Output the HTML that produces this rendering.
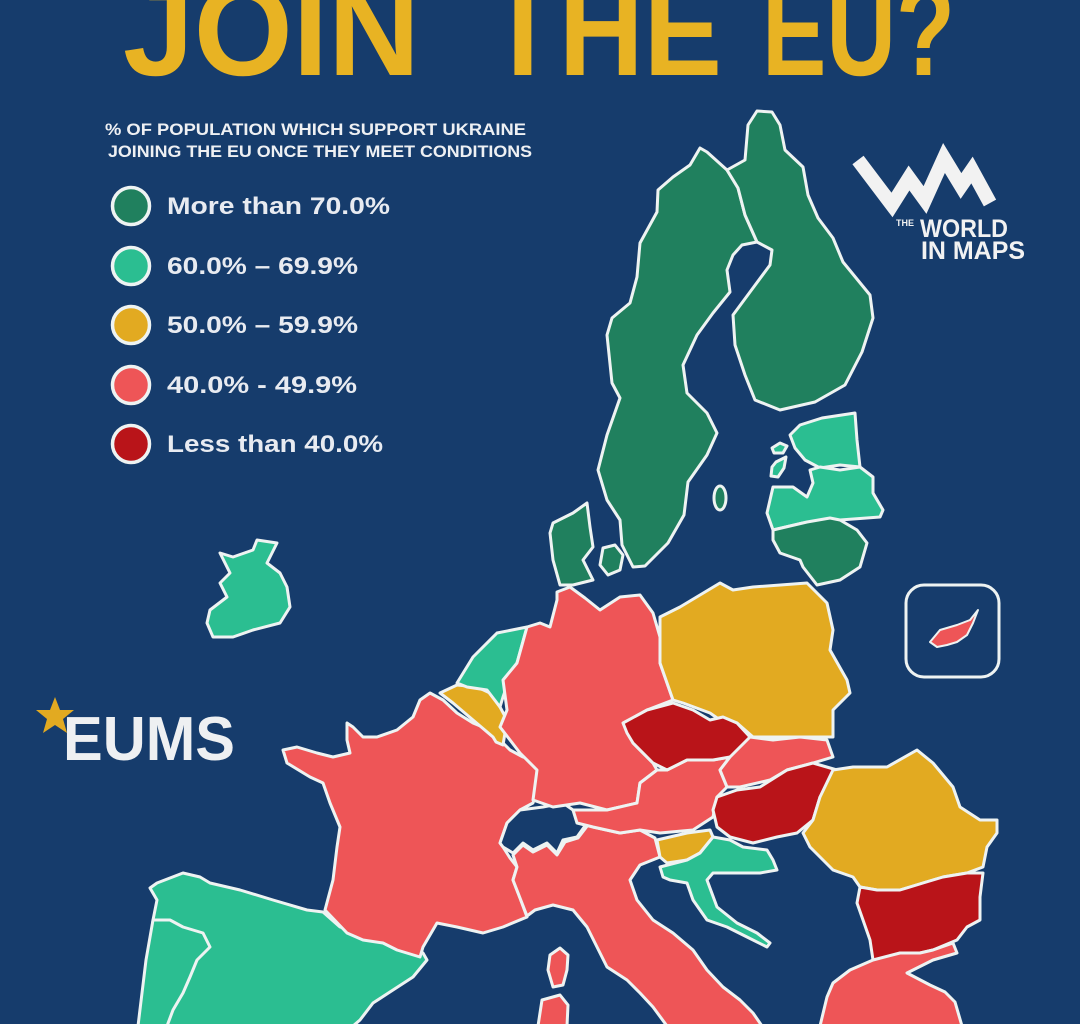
<!DOCTYPE html>
<html>
<head>
<meta charset="utf-8">
<style>
  html,body{margin:0;padding:0;background:#163c6c;}
  svg{display:block;}
  .t{font-family:"Liberation Sans",sans-serif;font-weight:bold;}
  .c path,.c polygon,.c ellipse{stroke:#eef3f2;stroke-width:3;stroke-linejoin:round;}
</style>
</head>
<body>
<svg width="1080" height="1024" viewBox="0 0 1080 1024" xmlns="http://www.w3.org/2000/svg">
  <rect width="1080" height="1024" fill="#163c6c"/>

  <!-- Title -->
  <g class="t" font-size="130" fill="#e8b323">
    <text x="123" y="75" textLength="297" lengthAdjust="spacingAndGlyphs">JOIN</text>
    <text x="487" y="75" textLength="235" lengthAdjust="spacingAndGlyphs">THE</text>
    <text x="762" y="75" textLength="193" lengthAdjust="spacingAndGlyphs">EU?</text>
  </g>

  <!-- Subtitle -->
  <text class="t" x="105" y="135" font-size="17" fill="#eef0f3" textLength="421" lengthAdjust="spacingAndGlyphs">% OF POPULATION WHICH SUPPORT UKRAINE</text>
  <text class="t" x="108" y="157" font-size="17" fill="#eef0f3" textLength="424" lengthAdjust="spacingAndGlyphs">JOINING THE EU ONCE THEY MEET CONDITIONS</text>

  <!-- Legend -->
  <g stroke="#eef3f2" stroke-width="3.5">
    <circle cx="131" cy="206" r="18.5" fill="#20805e"/>
    <circle cx="131" cy="266" r="18.5" fill="#2bbe91"/>
    <circle cx="131" cy="325" r="18.5" fill="#e2aa21"/>
    <circle cx="131" cy="385" r="18.5" fill="#ee5557"/>
    <circle cx="131" cy="444" r="18.5" fill="#b91419"/>
  </g>
  <g class="t" font-size="24" fill="#e8ebf1">
    <text x="167" y="214" textLength="223" lengthAdjust="spacingAndGlyphs">More than 70.0%</text>
    <text x="167" y="274" textLength="191" lengthAdjust="spacingAndGlyphs">60.0% – 69.9%</text>
    <text x="167" y="333" textLength="191" lengthAdjust="spacingAndGlyphs">50.0% – 59.9%</text>
    <text x="167" y="393" textLength="190" lengthAdjust="spacingAndGlyphs">40.0% - 49.9%</text>
    <text x="167" y="452" textLength="216" lengthAdjust="spacingAndGlyphs">Less than 40.0%</text>
  </g>

  <!-- Logo -->
  <polyline points="858,160 892,205 909,178 925,200 944,158 961,186 972,170 990,203" fill="none" stroke="#f2f2f2" stroke-width="14" stroke-linejoin="miter" stroke-miterlimit="3"/>
  <text class="t" x="896" y="226" font-size="9" fill="#f2f2f2">THE</text>
  <text class="t" x="920" y="237" font-size="25" fill="#f2f2f2" textLength="88" lengthAdjust="spacingAndGlyphs">WORLD</text>
  <text class="t" x="921" y="259" font-size="25" fill="#f2f2f2" textLength="104" lengthAdjust="spacingAndGlyphs">IN MAPS</text>

  <!-- EUMS -->
  <text class="t" x="63" y="760" font-size="62" fill="#eef0f2" textLength="172" lengthAdjust="spacingAndGlyphs">EUMS</text>
  <polygon points="55,697 60,710 74,710 63,719 67,733 55,725 43,733 47,719 36,710 50,710" fill="#e2aa21"/>

  <!-- Cyprus inset -->
  <rect x="906" y="585" width="93" height="92" rx="18" fill="none" stroke="#eef3f2" stroke-width="3"/>
  <g class="c">
    <polygon points="930,642 940,630 957,625 970,620 978,610 973,623 967,635 957,642 947,645 937,647" fill="#ee5557" style="stroke-width:2"/>
  </g>

  <g class="c">
    <!-- Spain -->
    <polygon fill="#2bbe91" points="157,883 183,873 200,877 210,883 240,890 273,900 307,910 323,912 340,927 373,937 393,947 423,953 427,960 413,977 393,990 373,1003 360,1020 353,1026 140,1026 148,960 153,920 157,900 150,888"/>
    <!-- Portugal -->
    <polygon fill="#2bbe91" points="153,920 170,920 183,927 203,933 210,947 197,960 190,977 183,993 173,1010 167,1026 138,1026 146,960"/>
    <!-- France -->
    <polygon fill="#ee5557" points="283,750 287,763 310,777 323,783 330,803 340,827 337,847 333,880 325,910 347,933 363,940 383,943 397,950 420,957 423,947 437,923 457,927 483,933 503,927 527,917 520,898 513,880 517,867 510,858 503,847 500,843 507,823 520,810 533,803 540,780 543,763 523,757 510,750 503,743 490,730 473,723 457,713 443,700 430,693 420,700 413,717 397,730 377,737 363,737 353,727 347,723 347,740 350,753 333,757 317,753 297,747"/>
    <!-- Italy -->
    <polygon fill="#ee5557" points="513,855 523,845 533,852 547,845 557,855 565,842 578,838 588,825 593,827 620,833 640,830 655,838 660,857 640,865 630,880 637,900 653,920 673,933 693,950 707,970 723,987 740,1000 753,1013 762,1026 667,1026 653,1007 640,993 627,980 607,967 597,947 587,927 573,910 553,905 535,910 527,916 520,898 513,880 517,867"/>
    <!-- Switzerland -->
    <polygon fill="#163c6c" points="500,843 507,823 520,810 543,807 563,803 573,810 587,823 577,837 563,840 557,853 547,843 533,850 523,843 513,853 503,847"/>
    <!-- Corsica / Sardinia -->
    <polygon fill="#ee5557" points="560,948 568,955 567,970 563,985 553,987 548,970 550,955"/>
    <polygon fill="#ee5557" points="542,1000 560,995 568,1005 567,1026 538,1026"/>
    <!-- Belgium + Lux -->
    <polygon fill="#e2aa21" points="440,693 457,685 477,687 490,693 500,707 507,720 505,733 503,745 496,742 493,737 473,720 453,703"/>
    <!-- Netherlands -->
    <polygon fill="#2bbe91" points="457,683 473,657 497,633 527,627 517,663 510,677 503,697 500,707 487,690 467,687"/>
    <!-- Germany -->
    <polygon fill="#ee5557" points="557,592 570,587 585,598 600,610 620,597 640,595 653,613 660,637 660,663 673,700 647,710 627,723 633,743 653,763 657,770 640,783 637,803 607,810 580,803 553,807 533,800 537,770 520,753 510,740 500,727 507,710 503,680 517,663 527,627 540,623 550,627 557,600"/>
    <!-- Austria -->
    <polygon fill="#ee5557" points="573,810 607,810 637,803 640,783 657,770 667,770 687,760 713,760 730,757 720,770 727,787 717,797 713,817 693,830 660,833 640,830 620,833 593,827 577,823"/>
    <!-- Poland -->
    <polygon fill="#e2aa21" points="660,617 680,607 720,583 733,590 753,587 807,583 827,603 833,630 830,650 847,680 850,693 833,710 833,737 820,737 787,737 753,737 737,723 720,720 710,713 683,703 673,700 660,663 660,637"/>
    <!-- Czech -->
    <polygon fill="#b91419" points="623,723 647,710 673,703 693,710 710,720 723,717 737,723 750,737 743,750 730,757 713,760 687,760 667,770 653,763 633,743 627,733"/>
    <!-- Slovakia -->
    <polygon fill="#ee5557" points="750,737 773,740 800,737 827,740 833,757 813,763 787,770 770,780 740,787 727,787 720,770 730,757"/>
    <!-- Hungary -->
    <polygon fill="#b91419" points="717,797 737,790 760,787 787,770 813,763 837,770 833,780 820,797 813,820 797,833 777,837 753,843 730,837 717,827 713,810"/>
    <!-- Slovenia -->
    <polygon fill="#e2aa21" points="657,840 687,833 710,830 713,837 700,853 687,860 667,863 660,857"/>
    <!-- Croatia -->
    <polygon fill="#2bbe91" points="660,867 687,860 700,853 713,837 730,840 743,847 767,850 773,860 777,870 760,873 737,873 713,873 707,880 717,907 737,923 757,933 770,943 767,947 747,937 727,927 707,920 693,900 687,883 670,880 663,877"/>
    <!-- Romania -->
    <polygon fill="#e2aa21" points="833,770 853,767 887,767 917,750 933,763 953,787 960,807 980,820 997,820 997,833 987,847 983,867 967,873 943,877 923,883 900,890 877,890 860,887 853,877 833,870 823,860 810,847 803,833 813,820 820,797"/>
    <!-- Bulgaria -->
    <polygon fill="#b91419" points="860,887 877,890 900,890 923,883 943,877 967,873 983,873 980,897 980,920 967,927 957,940 933,950 920,953 900,953 883,960 873,960 870,940 863,920 857,903"/>
    <!-- Greece -->
    <polygon fill="#ee5557" points="873,960 900,953 920,953 933,950 953,943 957,953 933,960 907,973 930,985 945,992 955,1002 962,1026 820,1026 827,997 833,983 850,970"/>
    <!-- Denmark -->
    <polygon fill="#20805e" points="553,523 573,513 587,503 590,527 593,547 583,560 593,580 573,585 560,585 553,560 550,533"/>
    <polygon fill="#20805e" points="603,548 615,545 623,555 620,570 608,575 600,565"/>
    <!-- Sweden -->
    <polygon fill="#20805e" points="700,148 707,152 727,170 738,188 745,215 757,242 742,245 733,255 727,270 730,292 713,313 697,335 683,365 687,393 707,413 717,433 707,455 688,482 684,515 668,543 645,566 633,567 622,545 620,520 607,500 598,470 607,435 620,398 612,383 607,335 612,318 630,303 637,277 640,243 657,212 658,190 673,177 690,165"/>
    <!-- Finland -->
    <polygon fill="#20805e" points="727,170 745,160 748,125 757,111 772,112 780,125 785,150 803,167 808,195 818,218 833,238 843,262 870,295 873,318 862,352 845,385 815,402 780,410 755,400 745,375 735,345 733,315 750,292 770,265 772,250 757,242 745,215 738,188"/>
    <!-- Gotland -->
    <ellipse cx="720" cy="498" rx="6" ry="12" fill="#20805e"/>
    <!-- Estonia -->
    <polygon fill="#2bbe91" points="790,435 800,425 822,418 855,413 857,440 860,467 840,465 820,468 805,460 795,448"/>
    <polygon fill="#2bbe91" points="772,448 780,443 787,446 783,453 774,453"/>
    <polygon fill="#2bbe91" points="776,462 786,457 784,468 778,477 771,476 772,467"/>
    <!-- Latvia -->
    <polygon fill="#2bbe91" points="773,487 793,487 807,497 813,483 810,470 820,467 840,470 860,467 873,477 873,493 883,510 880,517 840,520 803,523 773,530 767,513 770,500"/>
    <!-- Lithuania -->
    <polygon fill="#20805e" points="773,530 807,522 830,518 840,520 857,530 867,543 860,567 840,580 817,585 803,567 800,560 780,553 773,540"/>
    <!-- Ireland -->
    <polygon fill="#2bbe91" points="220,553 233,557 253,550 257,540 277,543 267,563 280,573 287,587 290,607 280,623 253,630 233,637 213,637 207,623 210,610 227,597 220,583 230,573"/>
  </g>
</svg>
</body>
</html>
